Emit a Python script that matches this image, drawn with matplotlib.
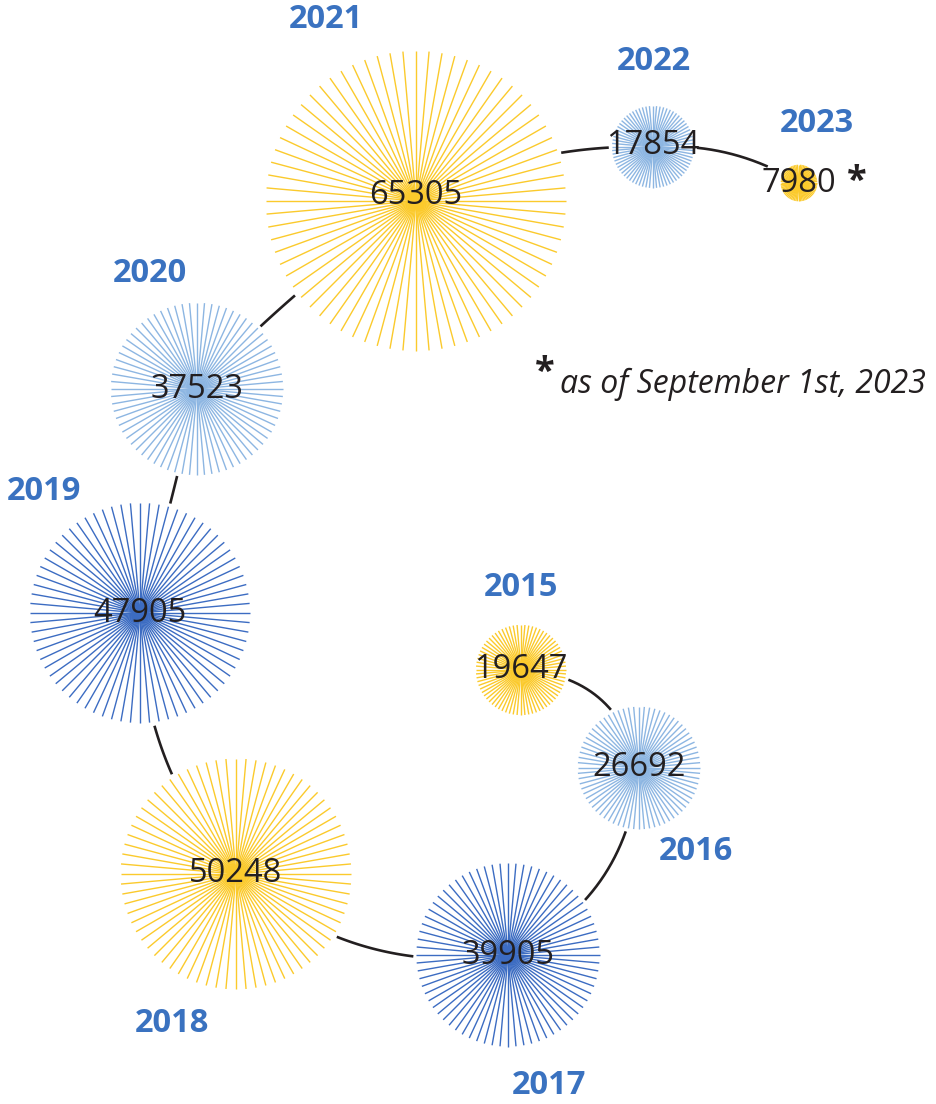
import matplotlib.pyplot as plt
import numpy as np

plt.rcParams["font.family"] = ["Open Sans", "DejaVu Sans"]

# yearly counts, oldest first
years = [2015, 2016, 2017, 2018, 2019, 2020, 2021, 2022, 2023]
counts = [19647, 26692, 39905, 50248, 47905, 37523, 65305, 17854, 7980]

# layout of the spiral (pixel space, y down)
centers = [(521, 670), (639, 768), (508, 955), (236, 874), (140, 613),
           (197, 389), (416, 201), (653, 147), (799, 183)]
year_pos = [(521, 588), (696, 852), (549, 1086), (172, 1023), (44, 492),
            (150, 273), (326, 20), (654, 62), (817, 124)]
bends = [-0.37, -0.29, -0.23, -0.19, 0.02, -0.05, -0.13, -0.16]
label_shift = [0, 0, 0, 0, 0, 0, -5, -2, 0]

YELLOW = "#fbca2c"
LIGHT = "#8db6e2"
DARK = "#3c6cc2"
palette = [YELLOW, LIGHT, DARK, YELLOW, DARK, LIGHT, YELLOW, LIGHT, YELLOW]
YEAR_COLOR = "#3a72c0"
INK = "#231f20"

px_per_unit = 150 / max(counts)
radii = [c * px_per_unit for c in counts]

fig = plt.figure(figsize=(9.37, 11.04), dpi=100)
ax = fig.add_axes((0, 0, 1, 1))
ax.set_xlim(0, 937)
ax.set_ylim(1104, 0)
ax.axis("off")

# connectors: quadratic curves between neighbours, hidden under the bursts
for i, bend in enumerate(bends):
    p0 = np.array(centers[i], float)
    p1 = np.array(centers[i + 1], float)
    d = p1 - p0
    L = np.hypot(*d)
    normal = np.array([-d[1], d[0]]) / L
    ctrl = (p0 + p1) / 2 + normal * bend * L
    t = np.linspace(0, 1, 400)[:, None]
    pts = (1 - t) ** 2 * p0 + 2 * (1 - t) * t * ctrl + t ** 2 * p1
    c0 = max(radii[i] + 3, 35)
    c1 = max(radii[i + 1] + 3, 35)
    keep = (np.hypot(*(pts - p0).T) > c0) & (np.hypot(*(pts - p1).T) > c1)
    seg = pts[keep]
    ax.plot(seg[:, 0], seg[:, 1], color=INK, lw=1.9, solid_capstyle="butt", zorder=1)

# starbursts
angles = np.deg2rad(np.arange(0, 360, 5))
for (cx, cy), r, col in zip(centers, radii, palette):
    for a in angles:
        ax.plot([cx, cx + r * np.cos(a)], [cy, cy + r * np.sin(a)],
                color=col, lw=1.0, solid_capstyle="butt", zorder=2)

for (cx, cy), n, dy in zip(centers, counts, label_shift):
    ax.text(cx, cy + dy, str(n), ha="center", va="center", fontsize=23.5,
            color=INK, zorder=3)

for (x, y), yr in zip(year_pos, years):
    ax.text(x, y, str(yr), ha="center", va="center", fontsize=23.5,
            fontweight="bold", color=YEAR_COLOR, zorder=3)

ax.text(857, 182, "*", ha="center", va="center", fontsize=26,
        fontweight="bold", color=INK)
ax.text(545, 373, "*", ha="center", va="center", fontsize=26,
        fontweight="bold", color=INK)
ax.text(560, 384, "as of September 1st, 2023", ha="left", va="center",
        fontsize=23, fontstyle="italic", color=INK)

fig.savefig("out.png", dpi=100)
